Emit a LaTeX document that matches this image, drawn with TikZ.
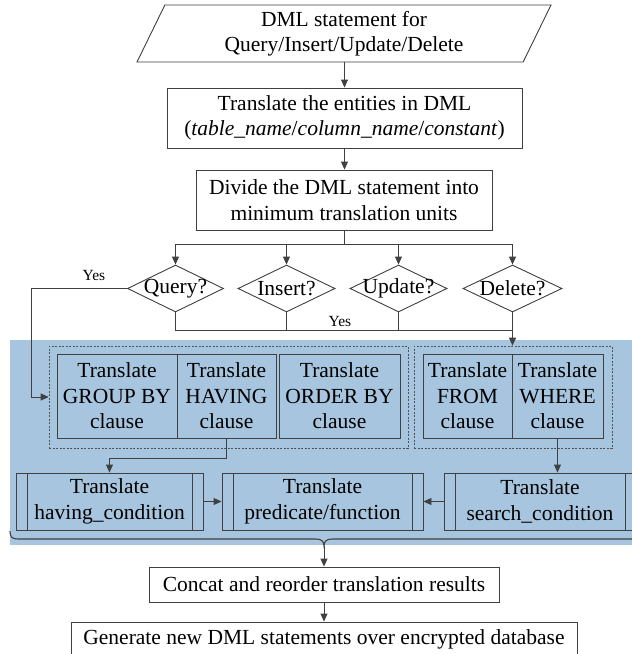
\documentclass[tikz,border=0pt]{standalone}
\usepackage{fontspec}
\setmainfont{Liberation Serif}
\usetikzlibrary{shapes.geometric,arrows.meta,calc}
\definecolor{lc}{RGB}{64,64,64}
\definecolor{bg}{RGB}{167,197,222}
\tikzset{
  base/.style={draw=lc, line width=0.9pt, inner sep=0pt, align=center,
    font=\fontsize{21.5}{25.5}\selectfont},
  box/.style={base, rectangle},
  dia/.style={base, diamond, aspect=2},
  grp/.style={draw=lc!90, line width=0.6pt, dash pattern=on 2pt off 1.5pt, rectangle, inner sep=0pt},
  proc/.style={box, path picture={
      \draw[lc, line width=0.9pt] ([xshift=11pt]path picture bounding box.north west) -- ([xshift=11pt]path picture bounding box.south west);
      \draw[lc, line width=0.9pt] ([xshift=-11pt]path picture bounding box.north east) -- ([xshift=-11pt]path picture bounding box.south east);}},
  arr/.style={draw=lc, line width=0.9pt, -{Triangle[length=8pt,width=7pt]}},
  ln/.style={draw=lc, line width=0.9pt},
  yes/.style={font=\fontsize{15.5}{18}\selectfont, inner sep=0pt}
}
\begin{document}
\begin{tikzpicture}[x=1pt,y=-1pt]
\clip (0,0) rectangle (632,654);
\fill[white] (0,0) rectangle (632,654);
% blue background
\fill[bg] (10,340) rectangle (640,545);

% top part
\node[base, trapezium, trapezium left angle=58.4, trapezium right angle=121.6,
  trapezium stretches body, minimum width=414pt, minimum height=57pt] (inp) at (344,33.5)
  {DML statement for\\Query/Insert/Update/Delete};
\node[box, minimum width=355pt, minimum height=60pt] (ent) at (344.5,118)
  {Translate the entities in DML\\(\textit{table\_name}/\textit{column\_name}/\textit{constant})};
\node[box, minimum width=296pt, minimum height=60pt] (div) at (344,200)
  {Divide the DML statement into\\minimum translation units};

\node[dia, minimum width=96pt, minimum height=47pt] (q) at (175.5,288.5) {\makebox[0pt]{Query?}};
\node[dia, minimum width=97pt, minimum height=47pt] (i) at (286.5,288.5) {\makebox[0pt]{Insert?}};
\node[dia, minimum width=97pt, minimum height=47pt] (u) at (398.5,288.5) {\makebox[0pt]{Update?}};
\node[dia, minimum width=99pt, minimum height=47pt] (d) at (512.5,288.5) {\makebox[0pt]{Delete?}};

\node[yes] (y1) at (94,275) {Yes};
\node[yes] (y2) at (340,321) {Yes};

% groups
\node[grp, minimum width=359pt, minimum height=102pt] (lgrp) at (228.5,397) {};
\node[grp, minimum width=198pt, minimum height=102pt] (rgrp) at (513,397) {};

\node[box, minimum width=120pt, minimum height=84pt] (gb) at (117,396) {Translate\\GROUP BY\\clause};
\node[box, minimum width=99pt, minimum height=84pt] (hv) at (226.5,396) {Translate\\HAVING\\clause};
\node[box, minimum width=121pt, minimum height=84pt] (ob) at (339.5,396) {Translate\\ORDER BY\\clause};
\node[box, minimum width=89pt, minimum height=84pt] (fr) at (467.5,396) {Translate\\FROM\\clause};
\node[box, minimum width=91pt, minimum height=84pt] (wh) at (557.5,396) {Translate\\WHERE\\clause};

% bottom row
\node[proc, minimum width=187pt, minimum height=57pt] (hc) at (109.5,501.5) {Translate\\having\_condition};
\node[proc, minimum width=201pt, minimum height=57pt] (pf) at (322.5,501.5) {Translate\\predicate/function};
\node[proc, minimum width=192pt, minimum height=57pt] (sc) at (540,501.5) {Translate\\search\_condition};

% brace
\coordinate (bt) at (324,546);
\draw[lc, line width=1.1pt] (10,531) .. controls (10,537) and (12,539) .. (18,539)
  -- (316,539) .. controls (321,539) and (324,541) .. (bt)
  .. controls (324,541) and (327,539) .. (332,539) -- (640,539);

\node[box, minimum width=350pt, minimum height=35pt] (cc) at (324,584.5) {Concat and reorder translation results};
\node[box, minimum width=506pt, minimum height=35pt] (gen) at (324,639.5) {Generate new DML statements over encrypted database};

% connectors
\draw[arr] (inp.south -| ent.north) -- (ent.north);
\draw[arr] (ent.south) -- (div.north -| ent.south);
\coordinate (b) at ($(div.south)+(0,14)$);
\draw[ln] (div.south) -- (b);
\draw[arr] (b) -| (q.north);
\draw[arr] (b) -| (i.north);
\draw[arr] (b) -| (u.north);
\draw[arr] (b) -| (d.north);

\coordinate (j) at ($(d.south)+(0,18)$);
\draw[ln] (q.south) |- (j);
\draw[ln] (i.south) -- (i.south |- j);
\draw[ln] (u.south) -- (u.south |- j);
\draw[arr] (d.south) -- (d.south |- rgrp.north);

\draw[arr] (q.west) -- ++(-95.5,0) |- (lgrp.west);

\draw[arr] (hv.south) -- ++(0,20) -| (hc.north);
\draw[arr] (wh.south) -- (wh.south |- sc.north);
\draw[arr] (hc.east) -- (pf.west);
\draw[arr] (sc.west) -- (pf.east);

\draw[arr] (bt) -- (cc.north);
\draw[arr] (cc.south) -- (gen.north);
\end{tikzpicture}
\end{document}
